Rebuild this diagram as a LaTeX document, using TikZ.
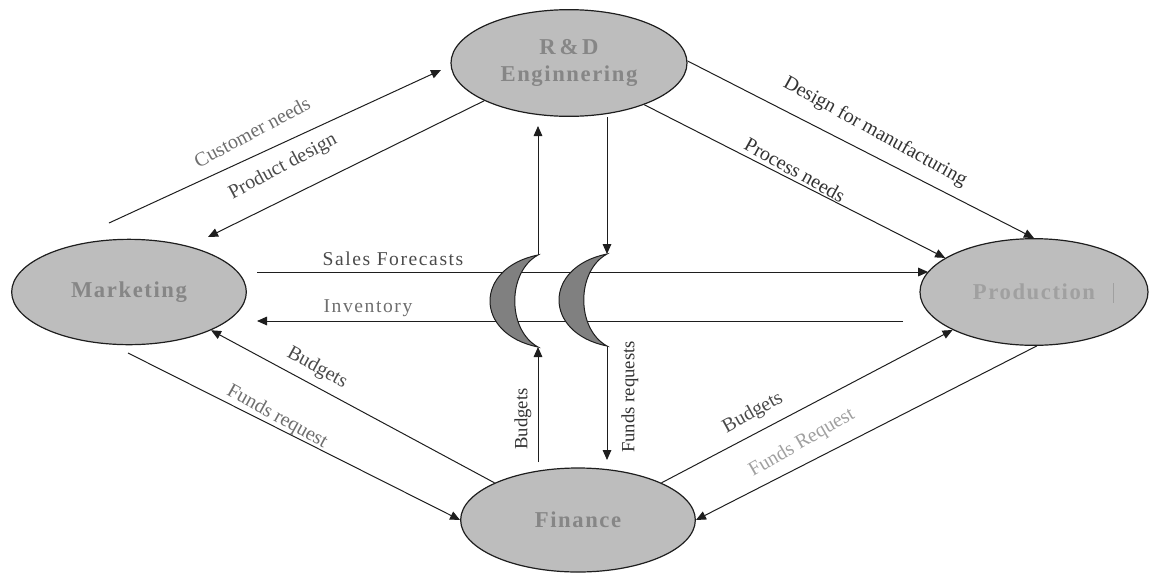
\documentclass[tikz,border=0pt]{standalone}
\usepackage{fontspec}
\setmainfont{Liberation Serif}
\newfontfamily\lblfont[LetterSpace=8]{Liberation Serif}
\newfontfamily\unitfont[LetterSpace=7]{Liberation Serif}
\usetikzlibrary{shapes.geometric,arrows.meta}

\definecolor{unitfill}{HTML}{BDBDBD}
\definecolor{unittext}{HTML}{868686}
\definecolor{prodtext}{HTML}{A0A0A0}
\definecolor{moonfill}{HTML}{808080}
\definecolor{linecol}{HTML}{1E1E1E}
\definecolor{lbldark}{HTML}{333333}
\definecolor{lblmid}{HTML}{4A4A4A}
\definecolor{lblsoft}{HTML}{6E6E6E}
\definecolor{lbllight}{HTML}{A0A0A0}

\begin{document}
\begin{tikzpicture}[x=0.75pt,y=-0.75pt,
  unit/.style={ellipse, draw=linecol, line width=0.9pt, fill=unitfill,
    inner sep=0pt, text=unittext, align=center,
    font=\unitfont\bfseries\fontsize{17}{20.5}\selectfont},
  flow/.style={draw=linecol, line width=0.75pt,
    -{Triangle[length=7.5pt,width=6.5pt]}},
  hlbl/.style={font=\lblfont\fontsize{14.7}{16}\selectfont, inner sep=0pt},
  lbl/.style={font=\fontsize{15}{16}\selectfont, inner sep=0pt},
  vlbl/.style={font=\fontsize{14}{16}\selectfont, inner sep=0pt,
    rotate=90, text=lbldark},
  moon/.style={fill=moonfill, draw=linecol, line width=0.75pt}
]
\useasboundingbox (0,0) rectangle (1150,572);

% departments
\node[unit, minimum width=176pt, minimum height=79pt] (mkt) at (129,292) {Marketing};
\node[unit, minimum width=177pt, minimum height=80pt] (rd) at (569,63) {R\,\&\,D\\Enginnering};
\node[unit, text=prodtext, minimum width=171pt, minimum height=80pt] (prod) at (1034,292) {Production};
\node[unit, minimum width=176pt, minimum height=78pt] (fin) at (578,520) {Finance};
\draw[prodtext, line width=0.6pt] (1113,283) -- (1113,303);

% free ends of the connectors
\coordinate (cnA) at (109,223);
\coordinate (cnB) at (441,70);
\coordinate (pdB) at (208,237);
\coordinate (sfA) at (257,272);
\coordinate (invA) at (903,321);
\coordinate (invB) at (257,321);
\coordinate (frlA) at (128,353);
\coordinate (budA) at (538,462);
\coordinate (budB) at (538,126);
\coordinate (frA) at (607,117);
\coordinate (frB) at (607,460);

% horizontal flows
\draw[flow] (sfA) -- (sfA -| prod.169);
\draw[flow] (invA) -- (invB);

% line bridges where the vertical flows cross
\coordinate (m1top) at (538,255);
\coordinate (m1bot) at (538,347);
\coordinate (m2top) at (607,254);
\coordinate (m2bot) at (607,346);
\path[moon] (m1top) .. controls (474,268) and (474,334) .. (m1bot)
  .. controls (507,330) and (507,272) .. (m1top) -- cycle;
\path[moon] (m2top) .. controls (543,267) and (543,333) .. (m2bot)
  .. controls (576,329) and (576,271) .. (m2top) -- cycle;

% vertical flows
\draw[flow] (budA) -- (m1bot);
\draw[flow] (m1top) -- (budB);
\draw[flow] (frA) -- (m2top);
\draw[flow] (m2bot) -- (frB);

% diagonal flows
\draw[flow] (cnA) -- (cnB);
\draw[flow] (rd.204) -- (pdB);
\draw[flow] (rd.1) -- (prod.90);
\draw[flow] (rd.-29) -- (prod.159);
\draw[flow] (fin.156) -- (mkt.-25);
\draw[flow] (frlA) -- (fin.west);
\draw[flow] (fin.24) -- (prod.205);
\draw[flow] (prod.-87) -- (fin.east);

% flow labels
\node[lbl, rotate=28, text=lblsoft] (tcn) at (252,132) {Customer needs};
\node[lbl, rotate=28, text=lblmid] (tpd) at (283,167) {Product design};
\node[lbl, rotate=-29, text=lbldark] (tdm) at (875,132) {Design for manufacturing};
\node[lbl, rotate=-29, text=lbldark] (tpn) at (795,170) {Process needs};
\node[hlbl, text=lblmid] (tsf) at (393,259) {Sales Forecasts};
\node[hlbl, text=lblsoft] (tinv) at (368,308) {Inventory};
\node[lbl, rotate=-29, text=lblmid] (tbl) at (317,368) {Budgets};
\node[lbl, rotate=-29, text=lblsoft] (tfl) at (277,417) {Funds request};
\node[lbl, rotate=29, text=lblmid] (tbr) at (753,413) {Budgets};
\node[lbl, rotate=30, text=lbllight] (tfr) at (802,443) {Funds Request};
\node[vlbl] (tbv) at (523,419) {Budgets};
\node[vlbl] (tfv) at (630,397) {Funds requests};
\end{tikzpicture}
\end{document}
